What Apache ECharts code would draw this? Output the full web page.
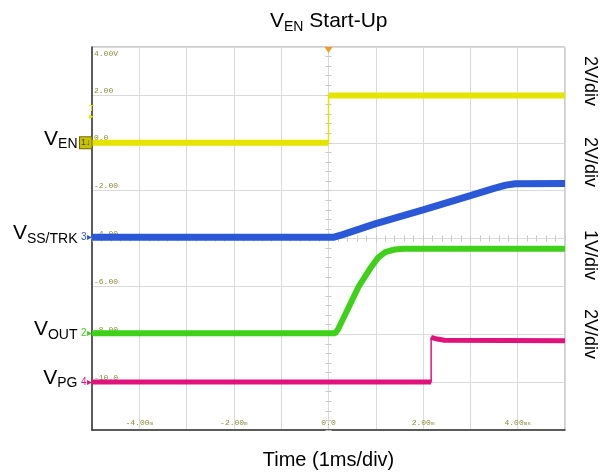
<!DOCTYPE html>
<html>
<head>
<meta charset="utf-8">
<script src="https://cdn.jsdelivr.net/npm/echarts@6/dist/echarts.min.js"></script>
<style>
  html, body { margin: 0; padding: 0; background: #fff; }
  #chart { width: 612px; height: 474px; }
</style>
</head>
<body>
<div id="chart"></div>
<script>
// scope screen values (grid units as printed by the scope, 2 units/div)
const xTickValues = [-4, -2, 0, 2, 4];
const xTickLabels = ['-4.00m', '-2.00m', '0.0', '2.00m', '4.00ms'];
const yTickValues = [4, 2, 0, -2, -4, -6, -8, -10];
const yTickLabels = ['4.00V', '2.00', '0.0', '-2.00', '-4.00', '-6.00', '-8.00', '-10.0'];

// ch1 V_EN
const venT = [-5, 0, 0, 5];
const venV = [0.0, 0.0, 1.97, 1.97];
// ch3 V_SS/TRK
const vssT = [-5, 0.1, 0.3, 1.0, 2.0, 3.0, 3.5, 3.75, 3.95, 5];
const vssV = [-3.95, -3.95, -3.84, -3.38, -2.8, -2.21, -1.91, -1.77, -1.71, -1.7];
// ch2 V_OUT
const voutT = [-5, 0.14, 0.2, 0.64, 0.9, 1.05, 1.2, 1.4, 1.6, 5];
const voutV = [-7.96, -7.96, -7.8, -6.0, -5.2, -4.8, -4.57, -4.46, -4.43, -4.43];
// ch4 V_PG
const vpgT = [-5, 2.17, 2.17, 2.3, 2.45, 5];
const vpgV = [-9.99, -9.99, -8.13, -8.2, -8.25, -8.27];

const divLabels = ['2V/div', '2V/div', '1V/div', '2V/div'];
const trigLevel = 1.25;

const channels = [
  { name: 'EN', num: '1', t: venT, v: venV, color: '#e4e400', width: 6, box: true },
  { name: 'SS/TRK', num: '3', t: vssT, v: vssV, color: '#2b58d6', width: 7 },
  { name: 'OUT', num: '2', t: voutT, v: voutV, color: '#3fd01a', width: 6 },
  { name: 'PG', num: '4', t: vpgT, v: vpgV, color: '#e0137c', width: 5 }
];

function pts(t, v) {
  return t.map((x, i) => [x, v[i]]);
}
// thick band, broken at vertical edges
function band(t, v) {
  const out = [];
  for (let i = 0; i < t.length; i++) {
    if (i > 0 && t[i] === t[i - 1]) out.push([t[i], '-']);
    out.push([t[i], v[i]]);
  }
  return out;
}

const mono = 'Liberation Mono';
const sans = 'Liberation Sans';
const olive = '#8d8d3a';

const series = [];
channels.forEach(ch => {
  series.push({
    type: 'line', xAxisIndex: 0, yAxisIndex: 0, data: pts(ch.t, ch.v),
    symbol: 'none', silent: true, animation: false,
    lineStyle: { color: ch.color, width: 1.5 }, z: 3
  });
  const mp = [
    {
      coord: [-5, ch.v[0]],
      label: {
        show: true, position: 'left', distance: 14, offset: [0, -3],
        formatter: '{v|V}{s|' + ch.name + '}',
        rich: {
          v: { fontFamily: sans, fontSize: 21, color: '#000', verticalAlign: 'bottom', padding: [0, 0, 2, 0] },
          s: { fontFamily: sans, fontSize: 14, color: '#000', verticalAlign: 'bottom' }
        }
      }
    },
    {
      coord: [-5, ch.v[0]],
      label: {
        show: true, position: 'left', distance: 0,
        formatter: ch.box ? '{b|' + ch.num + '\u2193}' : '{c|' + ch.num + '\u25B8}',
        rich: {
          b: { fontFamily: sans, fontSize: 9, color: '#4a4a00', backgroundColor: '#c9c200',
               borderColor: '#6f6a00', borderWidth: 1, padding: [1, 1, 1, 1] },
          c: { fontFamily: sans, fontSize: 10, color: ch.color }
        }
      }
    }
  ];
  if (ch.box) {
    mp.push({
      coord: [-5, trigLevel],
      label: {
        show: true, position: 'left', distance: 0,
        formatter: 'T\n\u25B8', lineHeight: 8, fontSize: 9, color: '#e8e800', fontFamily: sans, align: 'center'
      }
    });
    mp.push({
      coord: [0, 4], symbol: 'triangle', symbolRotate: 180, symbolSize: [8, 6], symbolOffset: [0, 3],
      itemStyle: { color: '#f29a1f' }, label: { show: false }
    });
  }
  series.push({
    type: 'line', xAxisIndex: 0, yAxisIndex: 0, data: band(ch.t, ch.v),
    symbol: 'none', silent: true, animation: false, connectNulls: false,
    lineStyle: { color: ch.color, width: ch.width }, z: 4,
    markPoint: {
      silent: true, animation: false, symbol: 'rect', symbolSize: 1,
      itemStyle: { color: 'rgba(0,0,0,0)' },
      data: mp
    }
  });
});

function xLabel(val) {
  const i = xTickValues.indexOf(val);
  if (i < 0) return '';
  const m = xTickLabels[i].match(/^(-?[\d.]+)(.*)$/);
  return '{n|' + m[1] + '}' + (m[2] ? '{u|' + m[2] + '}' : '');
}
function yLabel(val) {
  const i = yTickValues.indexOf(val);
  return i < 0 ? '' : yTickLabels[i];
}

const centerTicks = (inside) => ({
  show: true, inside: inside, length: 3, lineStyle: { color: '#c8c8c8', width: 1 }
});
const centerMinor = (inside) => ({
  show: true, splitNumber: 5, length: 3, lineStyle: { color: '#c8c8c8', width: 1 }
});

const chart = echarts.init(document.getElementById('chart'), null, { renderer: 'canvas' });
chart.setOption({
  animation: false,
  backgroundColor: '#fff',
  title: {
    text: '{v|V}{s|EN}{t| Start-Up}',
    left: 270, top: 11, padding: 0,
    textStyle: {
      fontWeight: 'normal',
      rich: {
        v: { fontFamily: sans, fontSize: 21, fontWeight: 'normal', color: '#000', verticalAlign: 'bottom', padding: [0, 0, 2, 0] },
        s: { fontFamily: sans, fontSize: 14, fontWeight: 'normal', color: '#000', verticalAlign: 'bottom' },
        t: { fontFamily: sans, fontSize: 21, fontWeight: 'normal', color: '#000', verticalAlign: 'bottom', padding: [0, 0, 2, 0] }
      }
    }
  },
  grid: {
    left: 92, right: 47, top: 47, bottom: 44, show: true, borderColor: '#9a9a9a', borderWidth: 1,
    outerBoundsMode: 'none', containLabel: false
  },
  xAxis: [
    {
      type: 'value', min: -5, max: 5, interval: 1, position: 'bottom',
      name: 'Time (1ms/div)', nameLocation: 'middle', nameGap: 20,
      nameTextStyle: { fontFamily: sans, fontSize: 20, color: '#000' },
      axisLine: { onZero: false, lineStyle: { color: '#333', width: 1.5 } },
      axisTick: { show: false },
      splitLine: { lineStyle: { color: '#dadada', width: 1 } },
      axisLabel: {
        inside: true, margin: 3, formatter: xLabel, showMinLabel: false, showMaxLabel: false,
        rich: {
          n: { fontFamily: mono, fontSize: 8, color: olive },
          u: { fontFamily: mono, fontSize: 6, color: olive }
        }
      }
    },
    {
      type: 'value', min: -5, max: 5, interval: 1,
      axisLine: { show: true, onZero: true, onZeroAxisIndex: 1, lineStyle: { color: '#dadada' } },
      axisTick: centerTicks(false), minorTick: centerMinor(false),
      axisLabel: { show: false }, splitLine: { show: false }
    },
    {
      type: 'value', min: -5, max: 5, interval: 1,
      axisLine: { show: true, onZero: true, onZeroAxisIndex: 1, lineStyle: { color: '#dadada' } },
      axisTick: centerTicks(true), minorTick: centerMinor(true),
      axisLabel: { show: false }, splitLine: { show: false }
    }
  ],
  yAxis: [
    {
      type: 'value', min: -12, max: 4, interval: 2, position: 'left',
      axisLine: { show: true, onZero: false, lineStyle: { color: '#333', width: 1.5 } },
      axisTick: { show: false },
      splitLine: { lineStyle: { color: '#dadada', width: 1 } },
      axisLabel: {
        inside: true, margin: 2, formatter: yLabel, showMaxLabel: false,
        fontFamily: mono, fontSize: 8, color: olive, verticalAlign: 'bottom', lineHeight: 9
      }
    },
    {
      type: 'value', min: -8, max: 8, interval: 2,
      axisLine: { show: true, onZero: true, onZeroAxisIndex: 0, lineStyle: { color: '#dadada' } },
      axisTick: centerTicks(false), minorTick: centerMinor(false),
      axisLabel: { show: false }, splitLine: { show: false }
    },
    {
      type: 'value', min: -8, max: 8, interval: 2,
      axisLine: { show: true, onZero: true, onZeroAxisIndex: 0, lineStyle: { color: '#dadada' } },
      axisTick: centerTicks(true), minorTick: centerMinor(true),
      axisLabel: { show: false }, splitLine: { show: false }
    },
    {
      type: 'value', min: -12, max: 4, interval: 2, position: 'left',
      axisLine: { show: false }, axisTick: { show: false }, splitLine: { show: false },
      axisLabel: {
        inside: true, margin: 2, showMaxLabel: true,
        formatter: v => (v === yTickValues[0] ? yTickLabels[0] : ''),
        fontFamily: mono, fontSize: 8, color: olive, verticalAlign: 'top', padding: [3, 0, 0, 0]
      }
    }
  ],
  graphic: divLabels.map((t, i) => ({
    type: 'text', x: 590, y: [81, 162, 255, 334][i], rotation: -Math.PI / 2,
    style: { text: t, font: '18px "Liberation Sans"', fill: '#000', align: 'center', verticalAlign: 'middle' }
  })),
  series: series
});
</script>
</body>
</html>
